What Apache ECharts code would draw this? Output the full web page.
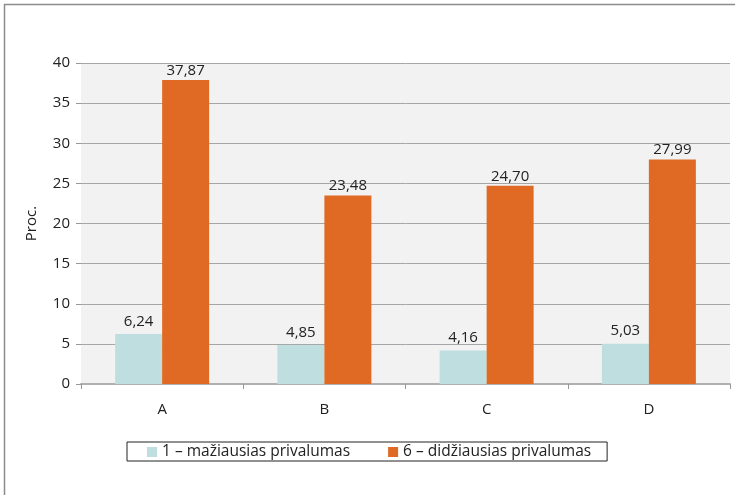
<!DOCTYPE html>
<html>
<head>
<meta charset="utf-8">
<script src="https://cdn.jsdelivr.net/npm/echarts@6/dist/echarts.min.js"></script>
<style>
  html, body { margin: 0; padding: 0; background: #fff; }
  #chart { width: 735px; height: 495px; }
</style>
</head>
<body>
<div id="chart"></div>
<script>
// Privalumo vertinimai pagal grupes (procentais)
var categories = ['A', 'B', 'C', 'D'];
var seriesNames = ['1 – mažiausias privalumas', '6 – didžiausias privalumas'];
var lowestValues = [6.24, 4.85, 4.16, 5.03];
var highestValues = [37.87, 23.48, 24.70, 27.99];
var yTicks = { min: 0, max: 40, interval: 5 };

var FONT = '"Open Sans", "Noto Sans", sans-serif';
var FS = 15;

function fmt(p) {
  return p.value.toFixed(2).replace('.', ',');
}

var chart = echarts.init(document.getElementById('chart'), null, { renderer: 'canvas' });

chart.setOption({
  animation: false,
  backgroundColor: '#ffffff',
  textStyle: { fontFamily: FONT },
  graphic: [
    {
      type: 'rect',
      z: 100,
      silent: true,
      shape: { x: 4.5, y: 4.5, width: 760, height: 520 },
      style: { fill: 'none', stroke: '#8c8c8c', lineWidth: 1.5 }
    }
  ],
  grid: {
    left: 81,
    top: 63,
    right: 5,
    bottom: 111,
    show: true,
    backgroundColor: '#f2f2f2',
    borderWidth: 0
  },
  legend: {
    left: 127,
    top: 442,
    padding: [2, 16, 1, 20],
    borderColor: '#222',
    borderWidth: 1,
    itemWidth: 10,
    itemHeight: 10,
    itemGap: 38,
    icon: 'rect',
    textStyle: { fontFamily: FONT, fontSize: 15.5, color: '#222' },
    data: seriesNames
  },
  xAxis: {
    type: 'category',
    data: categories,
    axisLine: { show: true, lineStyle: { color: '#b0b0b0', width: 2 } },
    axisTick: { show: true, alignWithLabel: false, length: 5, lineStyle: { color: '#999' } },
    axisLabel: { color: '#222', fontSize: FS, fontFamily: FONT, margin: 18 }
  },
  yAxis: {
    type: 'value',
    min: yTicks.min,
    max: yTicks.max,
    interval: yTicks.interval,
    name: 'Proc.',
    nameLocation: 'middle',
    nameGap: 42,
    nameRotate: 90,
    nameTextStyle: { color: '#222', fontSize: FS, fontFamily: FONT },
    axisLine: { show: false },
    axisTick: { show: true, length: 5, lineStyle: { color: '#999' } },
    axisLabel: { color: '#222', fontSize: FS, fontFamily: FONT, margin: 11 },
    splitLine: { show: true, lineStyle: { color: '#a6a6a6', width: 1 } }
  },
  series: [
    {
      name: seriesNames[0],
      type: 'bar',
      data: lowestValues,
      barWidth: 47,
      barGap: '0%',
      itemStyle: { color: '#bfdedf' },
      label: { show: true, position: 'top', distance: 5, formatter: fmt, color: '#222', fontSize: FS, fontFamily: FONT }
    },
    {
      name: seriesNames[1],
      type: 'bar',
      data: highestValues,
      barWidth: 47,
      barGap: '0%',
      itemStyle: { color: '#e06a24' },
      label: { show: true, position: 'top', distance: 2, formatter: fmt, color: '#222', fontSize: FS, fontFamily: FONT }
    }
  ]
});
</script>
</body>
</html>
